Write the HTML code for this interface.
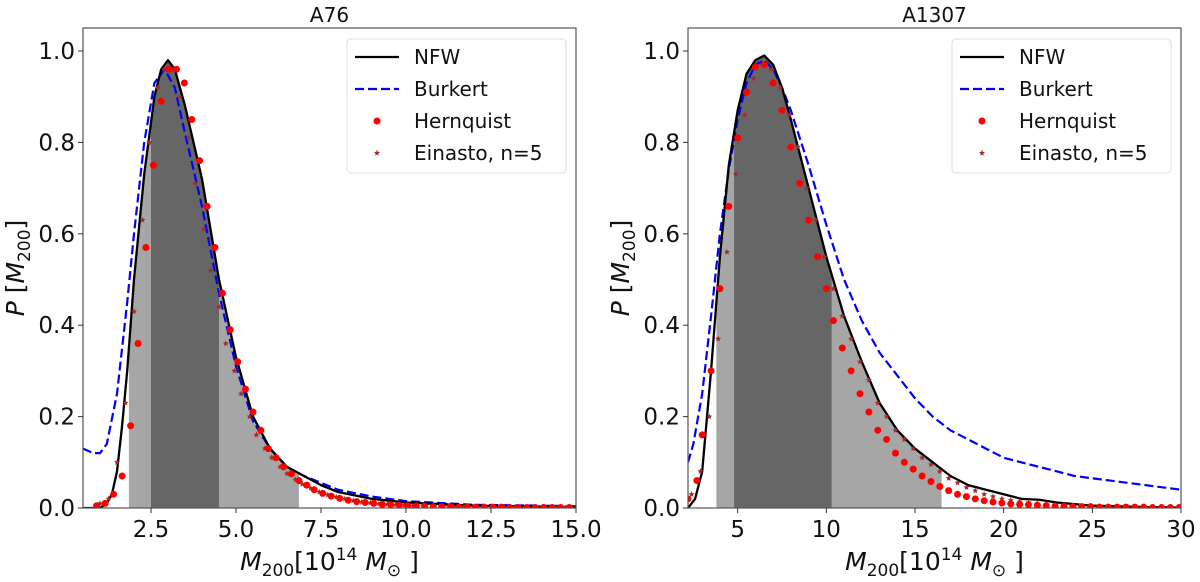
<!DOCTYPE html>
<html><head><meta charset="utf-8">
<style>
html,body{margin:0;padding:0;background:#fff;}
svg{display:block;font-family:"DejaVu Sans","Liberation Sans",sans-serif;}
</style></head>
<body>
<svg id="fig" width="1200" height="582" viewBox="0 0 1200 582" xmlns="http://www.w3.org/2000/svg"></svg>
<script>
// ---------- Panel A76 data ----------
const a76NfwX = [0.5,1.0,1.2,1.35,1.5,1.65,1.8,2.0,2.3,2.6,2.8,3.0,3.2,3.5,4.0,4.5,5.0,5.5,6.0,6.5,7.0,7.5,8.0,9.0,10,12,15];
const a76NfwY = [0,0,0.01,0.03,0.08,0.18,0.3,0.5,0.73,0.9,0.96,0.98,0.96,0.88,0.72,0.5,0.33,0.2,0.13,0.09,0.07,0.05,0.035,0.02,0.012,0.005,0.002];
const a76BurX = [0.5,0.8,1.0,1.2,1.5,1.8,2.0,2.3,2.6,2.9,3.2,3.5,4.0,4.5,5.0,5.5,6.0,6.5,7.0,7.5,8,9,10,12,15];
const a76BurY = [0.13,0.12,0.12,0.14,0.25,0.45,0.6,0.8,0.93,0.96,0.92,0.82,0.66,0.47,0.31,0.19,0.13,0.09,0.07,0.055,0.04,0.025,0.015,0.007,0.004];
const a76HerX = [0.9,1.15,1.4,1.65,1.9,2.12,2.35,2.57,2.8,3.02,3.25,3.48,3.7,3.93,4.15,4.38,4.6,4.83,5.05,5.28,5.5,5.73,5.95,6.18,6.4,6.63,6.85,7.08,7.3,7.55,7.8,8.05,8.3,8.55,8.8,9.05,9.3,9.55,9.8,10.05,10.3,10.55,10.8,11.05,11.3,11.55,11.8,12.05,12.3,12.55,12.8,13.05,13.3,13.55,13.8,14.05,14.3,14.55,14.8];
const a76HerY = [0.005,0.01,0.03,0.07,0.18,0.36,0.57,0.75,0.89,0.96,0.96,0.93,0.85,0.76,0.66,0.57,0.47,0.39,0.32,0.26,0.21,0.17,0.13,0.11,0.09,0.075,0.06,0.05,0.04,0.032,0.026,0.021,0.017,0.014,0.012,0.01,0.008,0.007,0.006,0.005,0.004,0.004,0.003,0.003,0.003,0.002,0.002,0.002,0.002,0.002,0.002,0.001,0.001,0.001,0.001,0.001,0.001,0.001,0.001];
const a76EinX = [1.0,1.25,1.5,1.75,2.0,2.25,2.45,2.7,2.9,3.15,3.35,3.6,3.8,4.05,4.25,4.5,4.7,4.95,5.15,5.4,5.6,5.85,6.05,6.3,6.5,6.75,6.95,7.2,7.45,7.7,7.95,8.2,8.45,8.7,8.95,9.2,9.45,9.7,9.95,10.2,10.5,10.8,11.1,11.4,11.7,12,12.3,12.6,12.9,13.2,13.5,13.8,14.1,14.4,14.7];
const a76EinY = [0.01,0.02,0.1,0.23,0.43,0.63,0.8,0.92,0.96,0.96,0.9,0.81,0.71,0.61,0.52,0.44,0.36,0.3,0.25,0.2,0.16,0.13,0.11,0.09,0.075,0.062,0.052,0.043,0.035,0.029,0.024,0.02,0.016,0.013,0.011,0.009,0.008,0.007,0.006,0.005,0.004,0.004,0.003,0.003,0.002,0.002,0.002,0.002,0.001,0.001,0.001,0.001,0.001,0.001,0.001];
const a76Light = [1.85, 6.85];
const a76Dark = [2.5, 4.5];
const a76XTicks = [2.5,5.0,7.5,10.0,12.5,15.0];
const a76XTickLabels = ["2.5","5.0","7.5","10.0","12.5","15.0"];

// ---------- Panel A1307 data ----------
const a13NfwX = [2.2,2.6,3.0,3.5,4.0,4.5,5.0,5.5,6.0,6.5,7.0,7.5,8,9,10,11,12,13,14,15,16,17,18,19,20,21,22,23,25,28,30];
const a13NfwY = [0,0.02,0.08,0.3,0.55,0.75,0.87,0.95,0.98,0.99,0.97,0.92,0.85,0.7,0.55,0.42,0.32,0.23,0.17,0.13,0.1,0.07,0.05,0.04,0.03,0.02,0.018,0.012,0.005,0.002,0.001];
const a13BurX = [2.2,2.5,3,3.5,4,4.5,5,5.5,6,6.5,7,7.5,8,9,10,11,12,13,14,15,16,17,18,19,20,22,24,26,28,30];
const a13BurY = [0.1,0.14,0.25,0.42,0.6,0.74,0.85,0.93,0.97,0.98,0.96,0.92,0.87,0.75,0.62,0.5,0.41,0.34,0.29,0.24,0.2,0.17,0.15,0.13,0.11,0.09,0.07,0.06,0.05,0.04];
const a13HerX = [2.2,2.7,3.0,3.5,4.0,4.5,5.0,5.5,6.0,6.5,7.0,7.5,8.0,8.5,9.0,9.5,10.0,10.4,10.9,11.4,11.9,12.4,12.9,13.4,13.9,14.4,14.9,15.4,15.9,16.4,16.9,17.4,17.9,18.4,18.9,19.4,19.9,20.4,20.9,21.4,21.9,22.4,22.9,23.4,23.9,24.4,24.9,25.4,25.9,26.4,26.9,27.4,27.9,28.4,28.9,29.4,29.9];
const a13HerY = [0.02,0.06,0.16,0.3,0.48,0.66,0.81,0.91,0.965,0.97,0.93,0.87,0.79,0.71,0.63,0.55,0.48,0.41,0.35,0.3,0.25,0.21,0.17,0.15,0.12,0.1,0.085,0.07,0.058,0.047,0.038,0.03,0.025,0.02,0.016,0.013,0.011,0.009,0.008,0.007,0.006,0.005,0.004,0.004,0.003,0.003,0.003,0.002,0.002,0.002,0.002,0.002,0.002,0.001,0.001,0.001,0.001];
const a13EinX = [2.4,2.9,3.4,3.9,4.4,4.9,5.4,5.9,6.4,6.9,7.4,7.9,8.4,8.9,9.4,9.9,10.4,10.9,11.4,11.9,12.4,12.9,13.4,13.9,14.4,14.9,15.4,15.9,16.4,16.9,17.4,17.9,18.4,18.9,19.4,19.9,20.4,20.9,21.4,21.9,22.4,22.9,23.4,23.9,24.4,24.9,25.4,25.9,26.4,26.9,27.4,27.9,28.4,28.9,29.4,29.9];
const a13EinY = [0.03,0.08,0.2,0.37,0.56,0.73,0.86,0.94,0.97,0.96,0.92,0.86,0.79,0.7,0.63,0.55,0.48,0.42,0.37,0.32,0.28,0.23,0.2,0.17,0.15,0.13,0.11,0.095,0.08,0.065,0.055,0.045,0.038,0.03,0.025,0.02,0.017,0.014,0.012,0.01,0.008,0.007,0.006,0.005,0.004,0.004,0.003,0.003,0.002,0.002,0.002,0.002,0.001,0.001,0.001,0.001];
const a13Light = [3.8, 16.5];
const a13Dark = [4.8, 10.3];
const a13XTicks = [5,10,15,20,25,30];
const a13XTickLabels = ["5","10","15","20","25","30"];

const yTicks = [0.0,0.2,0.4,0.6,0.8,1.0];
const yTickLabels = ["0.0","0.2","0.4","0.6","0.8","1.0"];

const NS = "http://www.w3.org/2000/svg";
const fig = document.getElementById('fig');
function mk(tag, attrs, parent){
  const e = document.createElementNS(NS, tag);
  for (const k in attrs) e.setAttribute(k, attrs[k]);
  (parent||fig).appendChild(e);
  return e;
}
function interp(xs, ys, x){
  if (x<=xs[0]) return ys[0];
  for (let i=1;i<xs.length;i++){
    if (x<=xs[i]){ const t=(x-xs[i-1])/(xs[i]-xs[i-1]); return ys[i-1]+t*(ys[i]-ys[i-1]); }
  }
  return ys[ys.length-1];
}
function starPath(cx, cy, r){
  let d='';
  for (let i=0;i<10;i++){
    const a = -Math.PI/2 + i*Math.PI/5;
    const rr = i%2===0 ? r : r*0.45;
    d += (i===0?'M':'L') + (cx+rr*Math.cos(a)).toFixed(2)+','+(cy+rr*Math.sin(a)).toFixed(2);
  }
  return d+'Z';
}

function panel(cfg){
  const L=cfg.left, R=cfg.left+493, T=28, B=508;
  const xS = v => L + (v-cfg.xmin)/(cfg.xmax-cfg.xmin)*(R-L);
  const yS = v => B - v*457;
  const g = mk('g', {});
  
  
  const clipId = 'clip-'+cfg.name;
  const cp = mk('clipPath', {id:clipId}, g);
  mk('rect', {x:L, y:T, width:R-L, height:B-T}, cp);
  const plot = mk('g', {'clip-path':'url(#'+clipId+')'}, g);

  function fillRange(a, b, color, name){
    let d = 'M'+xS(a)+','+yS(0);
    const n=60;
    for (let i=0;i<=n;i++){ const x=a+(b-a)*i/n; d+=' L'+xS(x).toFixed(2)+','+yS(interp(cfg.nfwX,cfg.nfwY,x)).toFixed(2); }
    d += ' L'+xS(b)+','+yS(0)+'Z';
    const p = mk('path', {d:d, fill:color, stroke:'none'}, plot);
    
    
  }
  fillRange(cfg.light[0], cfg.light[1], '#a6a6a6', 'outer-credible-region');
  fillRange(cfg.dark[0], cfg.dark[1], '#666666', 'inner-credible-region');

  const bd = cfg.burX.map((x,i)=>(i?'L':'M')+xS(x).toFixed(2)+','+yS(cfg.burY[i]).toFixed(2)).join(' ');
  const bp = mk('path', {d:bd, fill:'none', stroke:'#0000ff', 'stroke-width':2.2, 'stroke-dasharray':'9,4', 'stroke-linejoin':'round'}, plot);
  
  
  const nd = cfg.nfwX.map((x,i)=>(i?'L':'M')+xS(x).toFixed(2)+','+yS(cfg.nfwY[i]).toFixed(2)).join(' ');
  const np = mk('path', {d:nd, fill:'none', stroke:'#000', 'stroke-width':2.3, 'stroke-linejoin':'round'}, plot);
  
  
  cfg.einX.forEach((x,i)=>{
    const s = mk('path', {d:starPath(xS(x), yS(cfg.einY[i]), 3.2), fill:'#a52a2a'}, plot);
    
    
  });
  cfg.herX.forEach((x,i)=>{
    const c = mk('circle', {cx:xS(x), cy:yS(cfg.herY[i]), r:3.5, fill:'#ff0000'}, plot);
    
    
  });

  const fr = mk('rect', {x:L, y:T, width:R-L, height:B-T, fill:'none', stroke:'#555', 'stroke-width':1.2}, g);
  
  

  cfg.xTicks.forEach((v,i)=>{
    mk('line', {x1:xS(v), x2:xS(v), y1:B, y2:B+5, stroke:'#333', 'stroke-width':1}, g);
    const t = mk('text', {x:xS(v), y:B+29, 'font-size':23, 'text-anchor':'middle', fill:'#111'}, g);
    t.textContent = cfg.xTickLabels[i];
    
    
  });
  yTicks.forEach((v,i)=>{
    mk('line', {x1:L-5, x2:L, y1:yS(v), y2:yS(v), stroke:'#333', 'stroke-width':1}, g);
    const t = mk('text', {x:L-8, y:yS(v)+8, 'font-size':23, 'text-anchor':'end', fill:'#111'}, g);
    t.textContent = yTickLabels[i];
    
    
  });
  const ti = mk('text', {x:(L+R)/2, y:22, 'font-size':20, 'text-anchor':'middle', fill:'#111'}, g);
  ti.textContent = cfg.title;
  
  
  const xl = mk('text', {x:(L+R)/2, y:570, 'font-size':25, 'text-anchor':'middle', fill:'#111'}, g);
  xl.innerHTML = '<tspan font-style="italic">M</tspan><tspan font-size="17" dy="6">200</tspan><tspan dy="-6">[10</tspan><tspan font-size="17" dy="-10">14</tspan><tspan dy="10" font-style="italic"> M</tspan><tspan font-size="17" dy="6">⊙</tspan><tspan dy="-6"> ]</tspan>';
  
  
  const yl = mk('text', {x:0, y:0, 'font-size':25, 'text-anchor':'middle', fill:'#111', transform:'translate('+(cfg.left-59)+',268) rotate(-90)'}, g);
  yl.innerHTML = '<tspan font-style="italic">P</tspan><tspan> [</tspan><tspan font-style="italic">M</tspan><tspan font-size="17" dy="6">200</tspan><tspan dy="-6">]</tspan>';
  
  

  const lx = cfg.left + 264, ly = 39;
  const lg = mk('g', {}, g);
  
  
  mk('rect', {x:lx, y:ly, width:219, height:134, rx:4, fill:'#fff', 'fill-opacity':0.85, stroke:'#ddd', 'stroke-width':1}, lg);
  const rows = ['NFW','Burkert','Hernquist','Einasto, n=5'];
  rows.forEach((r,i)=>{
    const cy = 57 + i*32;
    const hx = lx+8, hx2 = lx+52;
    if (i===0) mk('line', {x1:hx, x2:hx2, y1:cy, y2:cy, stroke:'#000', 'stroke-width':2.3}, lg);
    if (i===1) mk('line', {x1:hx, x2:hx2, y1:cy, y2:cy, stroke:'#0000ff', 'stroke-width':2.2, 'stroke-dasharray':'9,4'}, lg);
    if (i===2) mk('circle', {cx:(hx+hx2)/2, cy:cy, r:3.5, fill:'#ff0000'}, lg);
    if (i===3) mk('path', {d:starPath((hx+hx2)/2, cy, 3.2), fill:'#a52a2a'}, lg);
    const t = mk('text', {x:lx+67, y:cy+7, 'font-size':20, fill:'#111'}, lg);
    t.textContent = r;
    
    
  });
}

panel({name:'a76', title:'A76', left:83, xmin:0.5, xmax:15.0,
  nfwX:a76NfwX, nfwY:a76NfwY, burX:a76BurX, burY:a76BurY, herX:a76HerX, herY:a76HerY, einX:a76EinX, einY:a76EinY,
  light:a76Light, dark:a76Dark, xTicks:a76XTicks, xTickLabels:a76XTickLabels});
panel({name:'a1307', title:'A1307', left:688, xmin:2.2, xmax:30,
  nfwX:a13NfwX, nfwY:a13NfwY, burX:a13BurX, burY:a13BurY, herX:a13HerX, herY:a13HerY, einX:a13EinX, einY:a13EinY,
  light:a13Light, dark:a13Dark, xTicks:a13XTicks, xTickLabels:a13XTickLabels});
</script>
</body></html>
